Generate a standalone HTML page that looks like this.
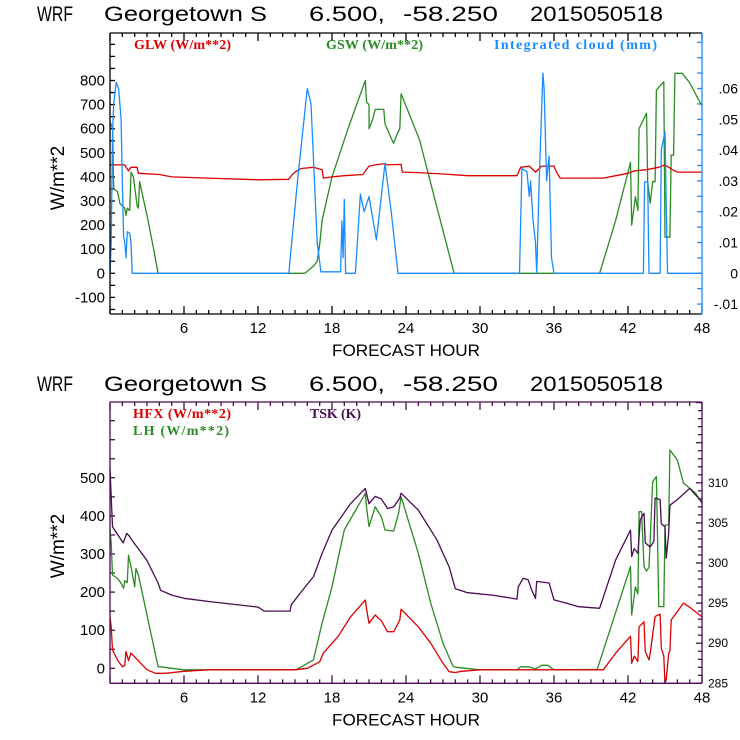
<!DOCTYPE html>
<html><head><meta charset="utf-8"><style>
body{margin:0;background:#fff;}
svg{display:block;}
text{font-family:"Liberation Sans",sans-serif;}
.ttl{font-size:21px;fill:#000;}
.tk{font-size:15px;fill:#000;}
.lg{font-family:"Liberation Serif",serif;font-size:14px;font-weight:bold;}
</style></head><body>
<svg id="chart" width="740" height="740" viewBox="0 0 740 740">
<rect width="740" height="740" fill="#fff"/>
</svg>
<script>
// ---- Top panel data ----
const glwHours = [0,1.2,1.3,1.5,1.7,2.2,2.3,4,5,8,12,14.5,14.7,15,15.5,16.5,17.2,17.3,18,19,20.5,21,21.5,22.3,22.5,23.6,23.7,25,27,29,33,33.3,34,34.5,35,36,36.2,36.5,40,41,42,42.5,43.5,44.5,45,45.6,46,48];
const glwValues = [450,450,440,425,440,440,415,410,400,395,388,390,405,420,435,440,430,395,400,405,410,445,450,455,450,452,420,418,412,405,405,440,445,420,445,445,420,395,395,405,415,425,430,440,450,430,420,420];
const gswHours = [0,0.2,0.3,0.6,0.8,1.2,1.3,1.4,1.6,1.7,1.9,2.2,2.3,2.4,3,3.5,3.9,15.8,16.5,16.8,17,17.2,18,19.3,20.7,20.8,21,21.01,21.3,21.5,22.2,22.3,22.8,23,23.3,23.5,23.6,25.1,26.5,27.9,39.7,41,42.2,42.3,42.6,42.8,42.9,43.5,43.6,43.8,44,44.2,44.3,44.9,45,45.4,45.5,45.7,45.8,46.4,47,48];
const gswValues = [630,600,350,340,290,270,240,270,260,420,400,280,270,380,240,110,0,0,30,50,120,220,400,600,800,710,700,600,640,680,680,620,560,540,580,600,745,553,276,0,0,220,460,200,318,260,601,664,380,291,380,380,760,795,150,150,491,490,830,830,790,694];
const cloudHours = [0,0.1,0.2,0.3,0.5,0.7,0.9,1.0,1.1,1.2,1.3,1.4,1.6,1.7,1.8,14.5,15.2,16.0,16.3,16.8,17.1,18.7,18.8,18.9,19.0,19.1,19.9,20.3,20.6,21.0,21.6,22.3,22.8,23.35,33.2,33.4,33.8,34.0,34.1,34.3,34.5,34.6,34.8,35.1,35.2,35.4,35.6,35.8,36.0,43.25,43.35,43.6,43.7,44.6,44.7,45.0,45.2,48];
const cloudValues = [0,0.01,0.045,0.055,0.062,0.06,0.05,0.03,0.012,0.01,0.005,0.0135,0.013,0.01,0,0,0.03,0.06,0.055,0.01,0.0005,0.0005,0.017,0.005,0.024,0,0,0.0257,0.02,0.0249,0.0108,0.0357,0.02,0,0,0.034,0.033,0.025,0.03,0.0173,0.01,0,0.03,0.065,0.06,0.03,0.038,0.005,0,0,0.0297,0.0297,0,0,0.04,0.046,0,0];
// ---- Bottom panel data ----
const tskHours = [0,0.2,1.07,1.35,1.6,1.7,2.97,3.9,4.1,5,6,8,12,12.5,14.6,14.7,15.2,15.5,16.5,17.2,18,19.5,20.7,21,21.5,22,22.5,23,23.5,23.6,25,26.5,27.5,28,29,31,33,33.1,33.5,33.9,34.2,34.5,34.6,35.6,36,37,38,39.7,41,42.2,42.3,42.5,42.8,43,43.3,43.4,43.8,44.1,44.2,44.6,44.7,45,45.1,45.3,45.4,46,47,48];
const tskValues = [311.8,304.5,302.5,303.7,303.3,303.0,300.4,297.5,296.6,296.0,295.6,295.2,294.5,294.0,294.0,294.8,295.8,296.4,298.3,301.2,304.1,307.4,309.3,307.4,308.3,308.0,306.8,307.0,308.1,308.7,306.6,302.9,299.5,296.8,296.3,296.0,295.5,297.0,298.1,297.9,296.6,295.6,297.7,297.5,295.4,295.0,294.55,294.35,300.4,304.1,300.8,301.8,301.2,305.4,306.2,302.5,302.0,302.7,308.1,307.9,304.9,304.5,300.6,303.7,307.2,307.9,309.3,307.6];
const lhHours = [0,0.1,0.2,0.6,0.9,1.1,1.2,1.4,1.5,1.7,2.0,2.1,2.3,3.9,4.1,5,6,15,15.3,16.5,17,17.2,18,19,20.7,20.8,21,21.5,22,22.3,23,23.4,23.6,25,26,27,27.8,28,30,33,33.3,34,34.5,35,35.5,36,39.5,42.2,42.3,42.6,42.8,42.9,43.1,43.3,43.5,43.7,44,44.3,44.5,44.9,45.0,45.3,45.4,46,46.5,47.5,48];
const lhValues = [367,328,245,236,223,210,230,225,297,267,214,262,245,4,4,0,-4,-4,0,22,92,118,214,363,459,424,372,424,398,363,360,407,450,302,171,66,6,3,-4,-4,4,4,-2,8,8,-4,-3,267,140,214,195,411,411,267,255,265,490,503,162,162,376,376,573,547,486,459,433];
const hfxHours = [0,0.1,0.2,0.6,1.0,1.2,1.3,1.5,1.7,3,3.7,4.5,6,8,15,16,17,17.3,18.5,19.5,20.7,20.8,21,21.5,22,22.5,23,23.5,23.6,25,26,27,27.5,28,28.5,30,40,41,42.2,42.3,42.5,42.8,42.9,43.3,43.4,43.7,43.8,44.2,44.6,44.7,44.9,45.0,45.1,45.3,45.4,45.5,46.5,47,48];
const hfxValues = [135,109,48,22,4,8,44,20,40,-4,-13,-13,-8,-4,-4,0,17,40,84,135,179,157,118,140,125,96,96,127,155,109,66,13,-9,-11,-8,-4,-4,40,84,13,32,18,109,122,44,22,40,136,142,53,32,-39,-30,40,44,127,171,160,135];
// Axis tick labels
const hourTicks = [6,12,18,24,30,36,42,48];
const topLeftTicks = [-100,0,100,200,300,400,500,600,700,800];
const topRightTicks = [-0.01,0,0.01,0.02,0.03,0.04,0.05,0.06];
const botLeftTicks = [0,100,200,300,400,500];
const botRightTicks = [285,290,295,300,305,310];

const NS="http://www.w3.org/2000/svg";
const svg=document.getElementById('chart');
function mk(tag,attrs,parent){const e=document.createElementNS(NS,tag);for(const k in attrs)e.setAttribute(k,attrs[k]);(parent||svg).appendChild(e);return e;}
const X0=110,X1=702;
const xs=h=>X0+(X1-X0)*h/48;
const T={top:33,bot:314};
const yTop=v=>273.3-v*0.241;
const yCloud=v=>273.3-v*3080;
const B={top:402,bot:683.3};
const yBot=v=>668.3-v*0.381;
const yTsk=v=>683.3-(v-285)*8.02;

function line(x1,y1,x2,y2,c,name){const l=mk('line',{x1,y1,x2,y2,stroke:c,'stroke-width':1.3});

return l;}
function txt(x,y,s,cls,fill,anchor,name,extra){const t=mk('text',Object.assign({x,y,class:cls,fill,'text-anchor':anchor},extra||{}));t.textContent=s;

return t;}
function series(hours,vals,yf,color,name){const pts=hours.map((h,i)=>xs(h).toFixed(1)+','+yf(vals[i]).toFixed(1)).join(' ');
const p=mk('polyline',{points:pts,fill:'none',stroke:color,'stroke-width':1.3,'stroke-linejoin':'round'});

}

function title(y,name){
  const A={lengthAdjust:'spacingAndGlyphs'};
  txt(37,y,'WRF','ttl','#000','start',name+'-model',Object.assign({textLength:36},A));
  txt(104,y,'Georgetown S','ttl','#000','start',name+'-station',Object.assign({textLength:163},A));
  txt(309,y,'6.500,','ttl','#000','start',name+'-lat',Object.assign({textLength:76},A));
  txt(403,y,'-58.250','ttl','#000','start',name+'-lon',Object.assign({textLength:95},A));
  txt(530,y,'2015050518','ttl','#000','start',name+'-date',Object.assign({textLength:133},A));
}
function xaxis(P,pre,col){
  for(let h=0;h<=48;h++){const x=xs(h);const L=h%6===0?8:4;
    line(x,P.bot,x,P.bot-L,col,pre+'-x-tick');line(x,P.top,x,P.top+L,col,pre+'-x-tick-top');}
  hourTicks.forEach(h=>txt(xs(h),P.bot+19,String(h),'tk','#000','middle',pre+'-x-tick-label'));
  txt(406,P.bot+42,'FORECAST HOUR','tk','#000','middle',pre+'-x-axis-title',{style:'font-size:17px',textLength:148,lengthAdjust:'spacingAndGlyphs'});
}
// ---------- TOP PANEL ----------
title(21,'top-title');
for(let v=-150;v<=1000;v+=50){const y=yTop(v);if(y<T.top||y>T.bot)continue;line(X0,y,X0+5,y,'#000','top-y-tick');}
topLeftTicks.forEach(v=>txt(105,yTop(v)+5,String(v),'tk','#000','end','top-y-tick-label'));
for(let v=-0.015;v<=0.075;v+=0.005){const y=yCloud(v);if(y<T.top||y>T.bot)continue;line(X1,y,X1-5,y,'#1e8cff','top-right-tick');}
topRightTicks.forEach(v=>{let s=v===0?'0':(v<0?'-'+(-v).toFixed(2).slice(1):v.toFixed(2).slice(1));txt(738,yCloud(v)+5,s,'tk','#000','end','top-right-tick-label',{style:'font-size:14px'});});
txt(0,0,'W/m**2','tk','#000','middle','top-y-axis-title',{transform:'translate(64,178) rotate(-90)',style:'font-size:19px'});
series(gswHours,gswValues,yTop,'#2a8c23','gsw-line');
series(glwHours,glwValues,yTop,'#dc0000','glw-line');
series(cloudHours,cloudValues,yCloud,'#1a8cff','cloud-line');
xaxis(T,'top','#000');
line(X0,T.top,X1,T.top,'#000','top-frame-top');line(X0,T.bot,X1,T.bot,'#000','top-frame-bottom');
line(X0,T.top,X0,T.bot,'#000','top-frame-left');line(X1,T.top,X1,T.bot,'#1e8cff','top-frame-right');
txt(134,49,'GLW (W/m**2)','lg','#dc0000','start','legend-glw',{textLength:97});
txt(326,49,'GSW (W/m**2)','lg','#2a8c23','start','legend-gsw',{textLength:97});
txt(494,49,'Integrated cloud (mm)','lg','#1a8cff','start','legend-cloud',{textLength:163});
// ---------- BOTTOM PANEL ----------
const PC='#4a0c52';
title(391,'bottom-title');
for(let v=-50;v<=700;v+=50){const y=yBot(v);if(y<B.top||y>B.bot)continue;line(X0,y,X0+5,y,PC,'bottom-y-tick');}
botLeftTicks.forEach(v=>txt(105,yBot(v)+5,String(v),'tk','#000','end','bottom-y-tick-label'));
for(let v=285;v<=320;v++){const y=yTsk(v);if(y<B.top||y>B.bot)continue;line(X1,y,X1-(v%5===0?6:4),y,PC,'bottom-right-tick');}
botRightTicks.forEach(v=>txt(728,yTsk(v)+4,String(v),'tk','#000','end','bottom-right-tick-label',{style:'font-size:12px'}));
txt(0,0,'W/m**2','tk','#000','middle','bottom-y-axis-title',{transform:'translate(64,546) rotate(-90)',style:'font-size:19px'});
series(lhHours,lhValues,yBot,'#2a8c23','lh-line');
series(hfxHours,hfxValues,yBot,'#dc0000','hfx-line');
series(tskHours,tskValues,yTsk,PC,'tsk-line');
xaxis(B,'bottom',PC);
line(X0,B.top,X1,B.top,PC,'bottom-frame-top');line(X0,B.bot,X1,B.bot,PC,'bottom-frame-bottom');
line(X0,B.top,X0,B.bot,PC,'bottom-frame-left');line(X1,B.top,X1,B.bot,PC,'bottom-frame-right');
txt(133,418,'HFX (W/m**2)','lg','#dc0000','start','legend-hfx',{textLength:98});
txt(133,435,'LH  (W/m**2)','lg','#2a8c23','start','legend-lh',{textLength:96});
txt(310,418,'TSK (K)','lg',PC,'start','legend-tsk',{textLength:51});
</script>
</body></html>
